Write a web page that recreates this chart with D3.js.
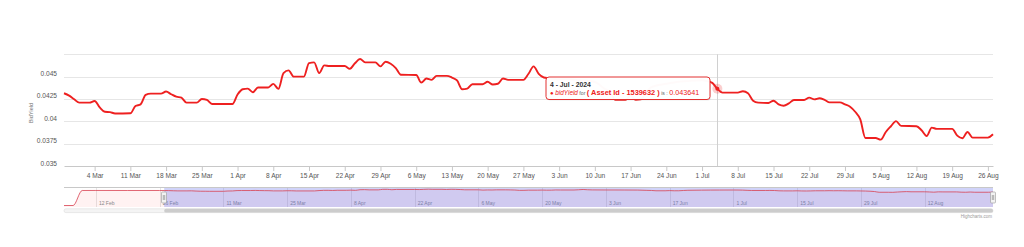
<!DOCTYPE html>
<html>
<head>
<meta charset="utf-8">
<script src="https://cdn.jsdelivr.net/npm/d3@7/dist/d3.min.js"></script>
<style>
body { margin: 0; background: #fff; }
svg { display: block; font-family: "Liberation Sans", Arial, sans-serif; }
.grid line { stroke: #e6e6e6; }
</style>
</head>
<body>
<svg id="chart"></svg>
<script>
var dates = ["2024-02-27","2024-02-28","2024-02-29","2024-03-01","2024-03-03","2024-03-04","2024-03-05","2024-03-06","2024-03-07","2024-03-08",
  "2024-03-11","2024-03-12","2024-03-13","2024-03-14","2024-03-15","2024-03-17","2024-03-18","2024-03-19","2024-03-20","2024-03-21",
  "2024-03-22","2024-03-24","2024-03-25","2024-03-26","2024-03-27","2024-03-31","2024-04-01","2024-04-02","2024-04-03","2024-04-04",
  "2024-04-05","2024-04-07","2024-04-08","2024-04-09","2024-04-10","2024-04-11","2024-04-12","2024-04-14","2024-04-15","2024-04-16",
  "2024-04-17","2024-04-18","2024-04-19","2024-04-22","2024-04-23","2024-04-24","2024-04-25","2024-04-26","2024-04-28","2024-04-29",
  "2024-04-30","2024-05-01","2024-05-02","2024-05-03","2024-05-06","2024-05-07","2024-05-08","2024-05-09","2024-05-10","2024-05-12",
  "2024-05-13","2024-05-14","2024-05-15","2024-05-16","2024-05-17","2024-05-19","2024-05-20","2024-05-21","2024-05-22","2024-05-23",
  "2024-05-24","2024-05-27","2024-05-28","2024-05-29","2024-05-30","2024-05-31","2024-06-03","2024-06-05","2024-06-07","2024-06-10",
  "2024-06-12","2024-06-13","2024-06-14","2024-06-16","2024-06-17","2024-06-18","2024-06-19","2024-06-20","2024-06-21","2024-06-24",
  "2024-06-26","2024-06-28","2024-07-01","2024-07-02","2024-07-03","2024-07-04","2024-07-05","2024-07-08","2024-07-09","2024-07-10",
  "2024-07-11","2024-07-12","2024-07-14","2024-07-15","2024-07-16","2024-07-17","2024-07-18","2024-07-19","2024-07-21","2024-07-22",
  "2024-07-23","2024-07-24","2024-07-25","2024-07-26","2024-07-28","2024-07-29","2024-07-30","2024-07-31","2024-08-01","2024-08-02",
  "2024-08-04","2024-08-05","2024-08-06","2024-08-07","2024-08-08","2024-08-09","2024-08-12","2024-08-13","2024-08-14","2024-08-15",
  "2024-08-16","2024-08-19","2024-08-20","2024-08-21","2024-08-22","2024-08-23","2024-08-26","2024-08-27"];
var bidYield = [0.04314,0.04288,0.04246,0.04209,0.04209,0.04228,0.04156,0.04107,0.04103,0.04088,
  0.04090,0.04171,0.04190,0.04295,0.04310,0.04310,0.04333,0.04303,0.04276,0.04265,
  0.04209,0.04209,0.04250,0.04239,0.04194,0.04194,0.04300,0.04359,0.04366,0.04325,
  0.04378,0.04378,0.04419,0.04363,0.04539,0.04570,0.04500,0.04500,0.04652,0.04660,
  0.04540,0.04626,0.04619,0.04619,0.04588,0.04650,0.04697,0.04660,0.04660,0.04615,
  0.04667,0.04645,0.04596,0.04521,0.04518,0.04434,0.04479,0.04464,0.04509,0.04509,
  0.04490,0.04457,0.04359,0.04366,0.04415,0.04415,0.04442,0.04412,0.04420,0.04479,
  0.04464,0.04464,0.04532,0.04615,0.04530,0.04490,0.04470,0.04470,0.04460,0.04440,
  0.04360,0.04330,0.04240,0.04240,0.04290,0.04240,0.04245,0.04320,0.04380,0.04420,
  0.04440,0.04450,0.04460,0.04450,0.04430,0.043641,0.04321,0.04321,0.04336,0.04314,
  0.04231,0.04209,0.04205,0.04231,0.04190,0.04175,0.04201,0.04239,0.04239,0.04265,
  0.04246,0.04258,0.04240,0.04212,0.04212,0.04190,0.04164,0.04107,0.04021,0.03814,
  0.03814,0.03795,0.03881,0.03945,0.04002,0.03949,0.03945,0.03900,0.03836,0.03930,
  0.03915,0.03915,0.03840,0.03810,0.03881,0.03818,0.03818,0.03855];
// earlier points only shown in the navigator
var navDates = ["2024-02-05","2024-02-07","2024-02-09","2024-02-12","2024-02-19","2024-02-26"];
var navYield = [0, 0, 0.0432, 0.0433, 0.0432, 0.0432];
var yTicks = [0.035, 0.0375, 0.04, 0.0425, 0.045, 0.0475];
var hoverDate = "2024-07-04";
var assetId = "1539632";

var width = 1024, height = 247;
var svg = d3.select("#chart").attr("width", width).attr("height", height);
var parse = d3.utcParse("%Y-%m-%d");
var data = dates.map(function(d, i){ return {date: parse(d), v: bidYield[i]}; });
var navData = navDates.map(function(d, i){ return {date: parse(d), v: navYield[i]}; }).concat(data);

var plotLeft = 64, plotRight = 993, plotTop = 54.3, plotBottom = 166;
var x = d3.scaleUtc().domain([parse("2024-02-27"), parse("2024-08-27")]).range([plotLeft, plotRight]);
var y = d3.scaleLinear().domain([0.035, 0.0475]).range([plotBottom, plotTop]);

// grid
svg.append("g").attr("class", "grid")
  .selectAll("line").data(yTicks.slice(1)).enter().append("line")
  .attr("x1", plotLeft).attr("x2", plotRight)
  .attr("y1", function(d){ return Math.round(y(d)) + 0.5; })
  .attr("y2", function(d){ return Math.round(y(d)) + 0.5; });

// y axis labels
svg.append("g").selectAll("text").data(yTicks.slice(0, 5)).enter().append("text")
  .attr("x", 57).attr("y", function(d){ return y(d) - 0.5; })
  .attr("text-anchor", "end").attr("font-size", "6.6px").attr("fill", "#555")
  .text(function(d){ return +d.toFixed(4); });
svg.append("text")
  .attr("transform", "translate(33,113) rotate(-90)")
  .attr("text-anchor", "middle").attr("font-size", "5.6px").attr("fill", "#777")
  .text("BidYield");

// x axis
var xAxis = d3.axisBottom(x)
  .tickValues(d3.utcMonday.range(parse("2024-03-04"), parse("2024-08-27")))
  .tickFormat(d3.utcFormat("%-d %b"))
  .tickSize(5).tickSizeOuter(0).tickPadding(2);
var gx = svg.append("g").attr("transform", "translate(0," + plotBottom + ")").call(xAxis);
gx.select(".domain").attr("stroke", "#c8c8c8");
gx.selectAll(".tick line").attr("stroke", "#c8c8c8");
gx.selectAll("text").attr("font-size", "6.6px").attr("fill", "#555").attr("font-family", null);

// crosshair
var hv = data.find(function(d){ return +d.date === +parse(hoverDate); });
svg.append("line")
  .attr("x1", Math.round(x(hv.date)) + 0.5).attr("x2", Math.round(x(hv.date)) + 0.5)
  .attr("y1", plotTop).attr("y2", plotBottom)
  .attr("stroke", "#d0d0d0").attr("stroke-width", 1);

// main line
var line = d3.line().x(function(d){ return x(d.date); }).y(function(d){ return y(d.v); })
  .curve(d3.curveMonotoneX);
svg.append("path").datum(data)
  .attr("d", line).attr("fill", "none")
  .attr("stroke", "#ee2020").attr("stroke-width", 1.9).attr("stroke-linejoin", "round");

// hover marker
svg.append("circle").attr("cx", x(hv.date)).attr("cy", y(hv.v)).attr("r", 5)
  .attr("fill", "#ee2020").attr("fill-opacity", 0.22);
svg.append("circle").attr("cx", x(hv.date)).attr("cy", y(hv.v)).attr("r", 2)
  .attr("fill", "#ee2020");

// tooltip
var tip = svg.append("g").attr("transform", "translate(546,77)");
tip.append("rect").attr("x", 1).attr("y", 1).attr("width", 164).attr("height", 22.5).attr("rx", 3)
  .attr("fill", "#000").attr("fill-opacity", 0.07);
tip.append("rect").attr("x", 0).attr("y", 0).attr("width", 164).attr("height", 22.5).attr("rx", 3)
  .attr("fill", "#fff").attr("fill-opacity", 0.98).attr("stroke", "#e23030").attr("stroke-width", 1);
tip.append("text").attr("x", 4).attr("y", 10).attr("font-size", "6.8px")
  .attr("font-weight", "bold").attr("fill", "#333")
  .text(d3.utcFormat("%-d - %b - %Y")(hv.date));
var t2 = tip.append("text").attr("x", 4).attr("y", 18.2).attr("fill", "#ee2020");
t2.append("tspan").attr("font-size", "6px").text("● ");
t2.append("tspan").attr("font-size", "6.4px").attr("font-style", "italic").text("bidYield");
t2.append("tspan").attr("font-size", "5.2px").attr("fill", "#666").text(" for ");
t2.append("tspan").attr("font-size", "7.4px").attr("font-weight", "bold").text("( Asset Id - " + assetId + " )");
t2.append("tspan").attr("font-size", "5.2px").attr("fill", "#666").text(" is : ");
t2.append("tspan").attr("font-size", "7.2px").text(hv.v);

// navigator
var nTop = 187.5, nBottom = 207;
var nx = d3.scaleUtc().domain([parse("2024-02-05"), parse("2024-08-27")]).range([plotLeft, plotRight]);
var ny = d3.scaleLinear().domain([0, 0.0475]).range([205.5, 189]);
var navTicks = d3.utcMonday.range(parse("2024-02-12"), parse("2024-08-14"), 2);
var nav = svg.append("g");
nav.selectAll("line.ng").data(navTicks).enter()
  .append("line").attr("class", "ng")
  .attr("x1", function(d){ return Math.round(nx(d)) + 0.5; })
  .attr("x2", function(d){ return Math.round(nx(d)) + 0.5; })
  .attr("y1", nTop).attr("y2", nBottom)
  .attr("stroke", "#e6e6e6");
var area = d3.area().x(function(d){ return nx(d.date); }).y0(nBottom).y1(function(d){ return ny(d.v); })
  .curve(d3.curveMonotoneX);
nav.append("path").datum(navData).attr("d", area).attr("fill", "#ff2020").attr("fill-opacity", 0.06);
nav.selectAll("text").data(navTicks).enter()
  .append("text")
  .attr("x", function(d){ return nx(d) + 3; }).attr("y", 204.5)
  .attr("font-size", "5px").attr("fill", "#888")
  .text(d3.utcFormat("%-d %b"));
// selected range mask
var selStart = x.domain()[0], selEnd = x.domain()[1];
nav.append("rect")
  .attr("x", nx(selStart)).attr("y", nTop).attr("width", nx(selEnd) - nx(selStart)).attr("height", nBottom - nTop)
  .attr("fill", "rgb(100,110,235)").attr("fill-opacity", 0.3);
nav.append("path").datum(navData)
  .attr("d", area.lineY1()).attr("fill", "none").attr("stroke", "#d84050").attr("stroke-width", 0.8);
nav.append("line").attr("x1", plotLeft).attr("x2", plotRight).attr("y1", nTop).attr("y2", nTop)
  .attr("stroke", "#c8c8c8").attr("stroke-width", 1);
[nx(selStart), nx(selEnd)].forEach(function(hx){
  var h = nav.append("g").attr("transform", "translate(" + (Math.round(hx) - 2.5) + ",192)");
  h.append("rect").attr("width", 5).attr("height", 11).attr("rx", 1)
    .attr("fill", "#f2f2f2").attr("stroke", "#999").attr("stroke-width", 0.6);
  h.append("line").attr("x1", 1.8).attr("x2", 1.8).attr("y1", 3).attr("y2", 8).attr("stroke", "#666").attr("stroke-width", 0.5);
  h.append("line").attr("x1", 3.2).attr("x2", 3.2).attr("y1", 3).attr("y2", 8).attr("stroke", "#666").attr("stroke-width", 0.5);
});

// scrollbar
svg.append("rect").attr("x", plotLeft).attr("y", 208.8).attr("width", plotRight - plotLeft).attr("height", 3.8).attr("rx", 1.9)
  .attr("fill", "#f4f4f4").attr("stroke", "#dcdcdc").attr("stroke-width", 0.6);
svg.append("rect").attr("x", nx(selStart)).attr("y", 208.8).attr("width", nx(selEnd) - nx(selStart)).attr("height", 3.8).attr("rx", 1.9)
  .attr("fill", "#cccccc");

// credits
svg.append("text").attr("x", 992).attr("y", 217.5).attr("text-anchor", "end")
  .attr("font-size", "4.5px").attr("fill", "#999").text("Highcharts.com");
</script>
</body>
</html>
